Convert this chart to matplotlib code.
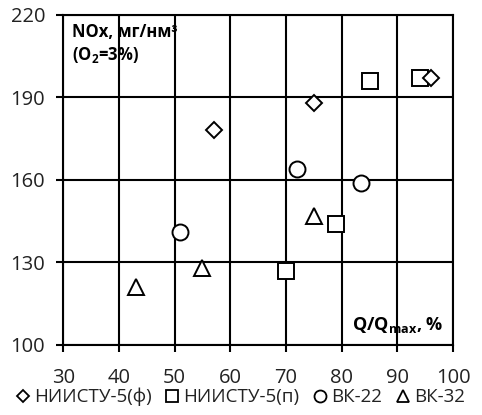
import matplotlib.pyplot as plt
from matplotlib.lines import Line2D

plt.rcParams['font.family'] = ['Open Sans', 'DejaVu Sans']
plt.rcParams['mathtext.default'] = 'regular'

# load fraction Q/Qmax, % and NOx, mg/nm3 for each boiler
x_niistu_f = [57, 75, 96]
y_niistu_f = [178, 188, 197]
x_niistu_p = [70, 79, 85, 94]
y_niistu_p = [127, 144, 196, 197]
x_vk22 = [51, 72, 83.5]
y_vk22 = [141, 164, 159]
x_vk32 = [43, 55, 75]
y_vk32 = [121, 128, 147]

labels = ['НИИСТУ-5(ф)', 'НИИСТУ-5(п)', 'ВК-22', 'ВК-32']
markers = ['D', 's', 'o', '^']
sizes = [8.2, 12, 11.5, 12]
zorders = [5, 4, 3, 3]

fig = plt.figure(figsize=(4.82, 4.15), dpi=100)
ax = fig.add_axes([0.131, 0.169, 0.809, 0.795])

series = [(x_niistu_f, y_niistu_f), (x_niistu_p, y_niistu_p),
          (x_vk22, y_vk22), (x_vk32, y_vk32)]
for (xs, ys), m, s, z in zip(series, markers, sizes, zorders):
    ax.plot(xs, ys, linestyle='none', marker=m, markersize=s,
            markerfacecolor='white', markeredgecolor='black',
            markeredgewidth=1.4, zorder=z)

ax.set_xlim(30, 100)
ax.set_ylim(100, 220)
ax.set_xticks(range(30, 101, 10))
ax.set_yticks(range(100, 221, 30))
ax.grid(True, color='black', linewidth=1.5)
for sp in ax.spines.values():
    sp.set_linewidth(1.5)
ax.tick_params(direction='out', length=5, width=1.5, labelsize=14.5,
               labelcolor='#222222')
ax.tick_params(axis='x', pad=12)
ax.tick_params(axis='y', pad=8)

ax.text(0.022, 0.975, 'NOx, мг/нм³\n(O$_2$=3%)', transform=ax.transAxes,
        ha='left', va='top', fontsize=12, fontweight='bold', linespacing=1.25)
ax.text(0.975, 0.03, 'Q/Q$_{max}$, %', transform=ax.transAxes,
        ha='right', va='bottom', fontsize=13, fontweight='bold')

handles = [Line2D([], [], linestyle='none', marker=m, markersize=s * 0.75,
                  markerfacecolor='white', markeredgecolor='black',
                  markeredgewidth=1.3) for m, s in zip(markers, sizes)]
fig.legend(handles, labels, loc='lower center', ncol=4, frameon=False,
           fontsize=13.5, handlelength=0.6, handletextpad=0.3,
           columnspacing=0.8, bbox_to_anchor=(0.5, -0.02),
           labelcolor='#222222')

fig.savefig('out.png', dpi=100)
